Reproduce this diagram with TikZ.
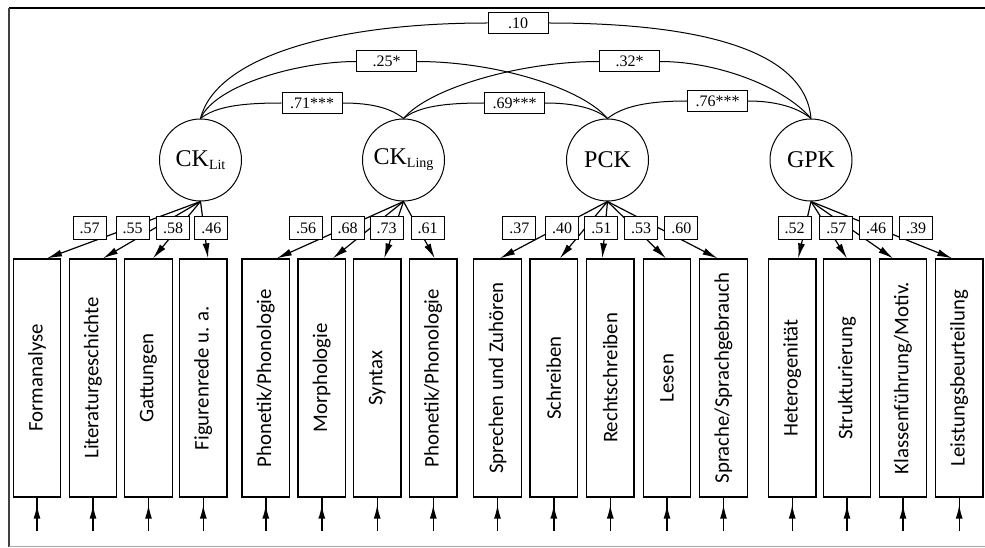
\documentclass[tikz,border=0pt]{standalone}
\usepackage{fontspec}
\setmainfont{Liberation Serif}
\newfontfamily\boxfont{Carlito}
\usetikzlibrary{arrows.meta}
\begin{document}
\begin{tikzpicture}[x=1pt,y=-1pt,
  lat/.style={draw,circle,minimum size=82pt,inner sep=0pt,line width=1pt,font=\fontsize{24}{24}\selectfont},
  ind/.style={draw,minimum width=47.5pt,minimum height=238pt,inner sep=0pt,line width=1.3pt,font=\boxfont\fontsize{20.8}{21}\selectfont},
  ld/.style={draw,fill=white,minimum width=33pt,minimum height=22pt,inner sep=1pt,line width=1pt,font=\fontsize{16}{16}\selectfont},
  cr/.style={draw,fill=white,minimum width=60pt,minimum height=21pt,inner sep=1pt,line width=1pt,font=\fontsize{16}{16}\selectfont},
  load/.style={line width=1.2pt,-{Latex[length=15pt,width=7pt]}},
  corr/.style={line width=1pt},
  errline/.style={line width=1.4pt},
  errhead/.style={line width=1.4pt,-{Latex[length=14pt,width=7pt]},shorten >=7pt},
]
\useasboundingbox (0,0) rectangle (985,548);
% frame
\draw[line width=1.5pt] (985,8) -- (9,8);
\draw[line width=2.5pt,black!75] (9,8) -- (9,547);
\draw[line width=0.8pt,black!35] (9,546.5) -- (985,546.5);

% latent factors
\newcommand{\subx}[1]{\raisebox{-3pt}{\fontsize{14}{14}\selectfont #1}}
\node[lat] (lit)  at (200.5,160) {CK\subx{Lit}};
\node[lat] (ling) at (403.5,160) {CK\subx{Ling}};
\node[lat] (pck)  at (607.5,160) {PCK};
\node[lat] (gpk)  at (811,160)   {GPK};

% indicators
\node[ind] (b1)  at (37,378)    {\rotatebox{90}{Formanalyse}};
\node[ind] (b2)  at (93,378)    {\rotatebox{90}{Literaturgeschichte}};
\node[ind] (b3)  at (148.5,378) {\rotatebox{90}{Gattungen}};
\node[ind] (b4)  at (203.3,378) {\rotatebox{90}{Figurenrede u. a.}};
\node[ind] (b5)  at (265.8,378) {\rotatebox{90}{Phonetik/Phonologie}};
\node[ind] (b6)  at (321.8,378) {\rotatebox{90}{Morphologie}};
\node[ind] (b7)  at (377.2,378) {\rotatebox{90}{Syntax}};
\node[ind] (b8)  at (433.3,378) {\rotatebox{90}{Phonetik/Phonologie}};
\node[ind] (b9)  at (497.5,378) {\rotatebox{90}{Sprechen und Zuhören}};
\node[ind] (b10) at (553.8,378) {\rotatebox{90}{Schreiben}};
\node[ind] (b11) at (610.3,378) {\rotatebox{90}{Rechtschreiben}};
\node[ind] (b12) at (667,378)   {\rotatebox{90}{Lesen}};
\node[ind] (b13) at (723.5,378) {\rotatebox{90}{Sprache/Sprachgebrauch}};
\node[ind] (b14) at (792.2,378) {\rotatebox{90}{Heterogenität}};
\node[ind] (b15) at (847,378)   {\rotatebox{90}{Strukturierung}};
\node[ind] (b16) at (903,378)   {\rotatebox{90}{Klassenführung/Motiv.}};
\node[ind] (b17) at (959.2,378) {\rotatebox{90}{Leistungsbeurteilung}};

% error arrows
\foreach \i/\x in {1/37,2/93,3/148.5,4/203.3,5/265.8,6/321.8,7/377.2,8/433.3,9/497.5,10/553.8,11/610.3,12/667,13/723.5,14/792.2,15/847,16/903,17/959.2}{
  \coordinate (e\i) at (\x,531);
  \draw[errline] (e\i) -- (b\i.south);
  \draw[errhead] (e\i) -- (b\i.south);
}

% loadings
\draw[load] (lit.south) -- ([xshift=10pt]b1.north);
\draw[load] (lit.south) -- ([xshift=10pt]b2.north);
\draw[load] (lit.south) -- ([xshift=4.5pt]b3.north);
\draw[load] (lit.south) -- ([xshift=4.7pt]b4.north);
\draw[load] (ling.south) -- ([xshift=11pt]b5.north);
\draw[load] (ling.south) -- ([xshift=11pt]b6.north);
\draw[load] (ling.south) -- ([xshift=7pt]b7.north);
\draw[load] (ling.south) -- ([xshift=1.5pt]b8.north);
\draw[load] (pck.south) -- ([xshift=2.5pt]b9.north);
\draw[load] (pck.south) -- ([xshift=6pt]b10.north);
\draw[load] (pck.south) -- ([xshift=-8pt]b11.north);
\draw[load] (pck.south) -- ([xshift=-1pt]b12.north);
\draw[load] (pck.south) -- ([xshift=-6pt]b13.north);
\draw[load] (gpk.south) -- ([xshift=6pt]b14.north);
\draw[load] (gpk.south) -- ([xshift=0pt]b15.north);
\draw[load] (gpk.south) -- ([xshift=-10pt]b16.north);
\draw[load] (gpk.south) -- ([xshift=-7pt]b17.north);

\node[ld] (l1)  at (89.7,228)  {.57};
\node[ld] (l2)  at (132.5,228) {.55};
\node[ld] (l3)  at (173,228)   {.58};
\node[ld] (l4)  at (211.3,228) {.46};
\node[ld] (l5)  at (306,228)   {.56};
\node[ld] (l6)  at (347.5,228) {.68};
\node[ld] (l7)  at (386.7,228) {.73};
\node[ld] (l8)  at (427.5,228) {.61};
\node[ld] (l9)  at (519.3,228) {.37};
\node[ld] (l10) at (562.2,228) {.40};
\node[ld] (l11) at (601.3,228) {.51};
\node[ld] (l12) at (641,228)   {.53};
\node[ld] (l13) at (681.3,228) {.60};
\node[ld] (l14) at (794.7,228) {.52};
\node[ld] (l15) at (836.3,228) {.57};
\node[ld] (l16) at (876,228)   {.46};
\node[ld] (l17) at (916,228)   {.39};

% correlations
\node[cr] (c10) at (518,23)     {.10};
\node[cr] (c25) at (386.5,61.5) {.25*};
\node[cr] (c32) at (629.5,61.5) {.32*};
\node[cr] (c71) at (312,103)    {.71***};
\node[cr] (c69) at (514.5,103)  {.69***};
\node[cr] (c76) at (717.5,101)  {.76***};

\draw[corr] (lit.north) .. controls +(15,-60) and +(-158,0) .. (c10.west);
\draw[corr] (c10.east) .. controls +(150,0) and +(-6,-69) .. (gpk.north);
\draw[corr] (lit.north) .. controls +(15,-34) and +(-56,0) .. (c25.west);
\draw[corr] (c25.east) .. controls +(80,0) and +(-25,-30) .. (pck.north);
\draw[corr] (ling.north) .. controls +(25,-30) and +(-80,0) .. (c32.west);
\draw[corr] (c32.east) .. controls +(60,0) and +(-25,-30) .. (gpk.north);
\draw[corr] (lit.north) .. controls +(15,-12) and +(-40,0) .. (c71.west);
\draw[corr] (c71.east) .. controls +(30,0) and +(-12,-10) .. (ling.north);
\draw[corr] (ling.north) .. controls +(15,-12) and +(-40,0) .. (c69.west);
\draw[corr] (c69.east) .. controls +(30,0) and +(-12,-10) .. (pck.north);
\draw[corr] (pck.north) .. controls +(15,-12) and +(-40,0) .. (c76.west);
\draw[corr] (c76.east) .. controls +(30,0) and +(-12,-10) .. (gpk.north);
\end{tikzpicture}
\end{document}
